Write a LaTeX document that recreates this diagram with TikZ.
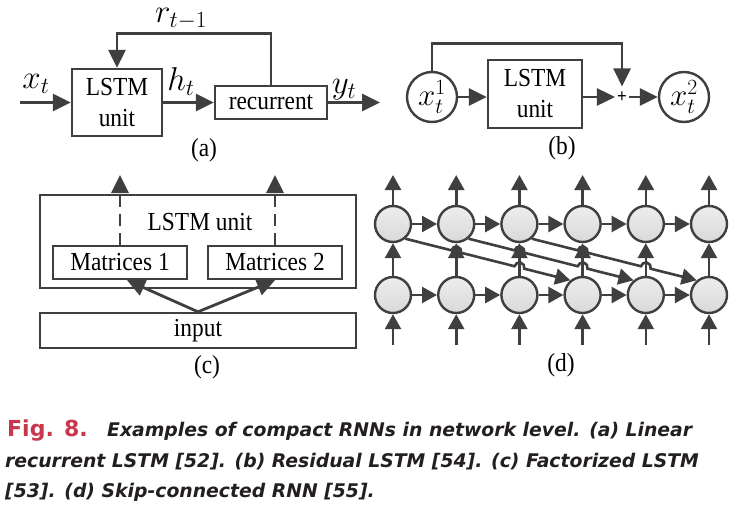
\RequirePackage{fix-cm}
\documentclass[tikz,border=0pt]{standalone}
\usepackage{fontspec}
\setmainfont{Liberation Serif}[FakeStretch=0.9]
\newfontfamily\capfont{DejaVu Sans}[BoldFont={DejaVu Sans Bold},BoldItalicFont={DejaVu Sans Bold Oblique}]
\usetikzlibrary{arrows.meta,calc}
\definecolor{dk}{HTML}{3F3F3F}
\definecolor{figred}{RGB}{200,55,75}
\definecolor{capblk}{HTML}{231F20}
\begin{document}
\begin{tikzpicture}[x=1pt,y=-1pt,
  lbl/.style={font=\fontsize{26}{31}\selectfont, inner sep=0pt},
  mlbl/.style={font=\fontsize{33}{36}\selectfont, inner sep=0pt},
  box/.style={draw=dk, line width=2.4pt, inner sep=0pt, font=\fontsize{26}{31}\selectfont, align=center},
  arr/.style={draw=dk, line width=2.8pt, -{Triangle[length=18pt,width=17pt]}},
  darr/.style={draw=dk, line width=2.6pt, -{Triangle[length=15pt,width=16pt]}},
  dn/.style={circle, draw=dk, line width=2.4pt, minimum size=36pt, inner sep=0pt, top color=black!7, bottom color=black!15},
  cir/.style={circle, draw=dk, line width=2.4pt, minimum size=50pt, inner sep=0pt, font=\fontsize{31}{34}\selectfont},
  captext/.style={anchor=base west, inner sep=0pt, text=capblk, font=\capfont\bfseries\itshape\fontsize{18.8}{22}\selectfont}
]
\fill[white] (0,0) rectangle (746,514);
\useasboundingbox (0,0) rectangle (746,514);

% ---------- (a)
\node[box, minimum width=90pt, minimum height=67pt] (a1) at (117,102.5) {LSTM\\unit};
\node[box, minimum width=112pt, minimum height=33pt] (a2) at (271,102.5) {recurrent};
\coordinate (ain) at (20,102.5);
\coordinate (aout) at (380,102.5);
\draw[arr] (ain) -- (a1.west);
\draw[arr] (a1.east) -- (a2.west);
\draw[arr] (a2.east) -- (aout);
\draw[arr] (a2.north) -- ++(0,-51) -| (a1.north);
\node[mlbl] (lx) at (36,84) {$x_t$};
\node[mlbl] (lh) at (181,82) {$h_t$};
\node[mlbl] (ly) at (344,90) {$y_t$};
\node[mlbl] (lr) at (181,19) {$r_{t-1}$};
\node[lbl] (capa) at (204,150) {(a)};

% ---------- (b)
\node[cir] (b0) at (432,97) {$x_t^1$};
\node[box, minimum width=94pt, minimum height=68pt] (b1) at (535,94) {LSTM\\unit};
\node[inner xsep=2pt, inner ysep=5pt, font=\fontsize{19}{19}\bfseries] (bp) at (622,97) {+};
\node[cir] (b2) at (684,97) {$x_t^2$};
\draw[arr] (b0.east) -- (b1.west |- b0.east);
\draw[arr] (b1.east |- bp.west) -- (bp.west);
\draw[arr] (bp.east) -- (b2.west);
\draw[arr] (b0.north) -- ++(0,-27) -| (bp.north);
\node[lbl] (capb) at (562,148) {(b)};

% ---------- (c)
\node[box, minimum width=316pt, minimum height=93pt] (c0) at (198,241.5) {};
\node[lbl] (ct) at (200,222) {LSTM unit};
\node[box, minimum width=134pt, minimum height=33pt] (m1) at (120,262.5) {Matrices 1};
\node[box, minimum width=134pt, minimum height=33pt] (m2) at (275,262.5) {Matrices 2};
\node[box, minimum width=316pt, minimum height=35pt] (cin) at (198,330.5) {input};
\coordinate (c1t) at (120,175);
\coordinate (c2t) at (275,175);
\draw[arr, dash pattern=on 12pt off 7pt] (m1.north) -- (c1t);
\draw[arr, dash pattern=on 12pt off 7pt] (m2.north) -- (c2t);
\draw[arr] (cin.north) -- ($(m1.south)+(7,0)$);
\draw[arr] (cin.north) -- (m2.south);
\node[lbl] (capc) at (207,367) {(c)};

% ---------- (d)
\foreach \i in {1,...,6}{
  \pgfmathsetmacro\xx{393+(\i-1)*63.2}
  \node[dn] (t\i) at (\xx,224) {};
  \node[dn] (b\i) at (\xx,295) {};
  \coordinate (o\i) at (\xx,175);
  \coordinate (n\i) at (\xx,345);
  \draw[darr] (t\i.north) -- (o\i);
  \draw[darr] (n\i) -- (b\i.south);
  \draw[darr] (b\i.north) -- (t\i.south);
}
\foreach \i [count=\j from 2] in {1,...,5}{
  \draw[darr] (t\i.east) -- (t\j.west);
  \draw[darr] (b\i.east) -- (b\j.west);
}
\foreach \i [evaluate=\i as \k using {int(\i+3)}] in {1,2,3}{
  \draw[darr] (t\i.-50) -- ($(t\i.-50)!0.2790!(b\k.130)$)
     arc[start angle=194.15, end angle=374.15, radius=5]
     -- ($(t\i.-50)!0.6622!(b\k.130)$)
     arc[start angle=194.15, end angle=374.15, radius=5]
     -- (b\k.130);
}
\node[lbl] (capd) at (561,365) {(d)};

% ---------- caption
\node[anchor=base west, inner sep=0pt, text=figred, font=\capfont\bfseries\fontsize{22}{22}\selectfont] (cap0) at (7,436) {Fig. 8.};
\node[captext] (cap1) at (107,436) {Examples of compact RNNs in network level. (a) Linear};
\node[captext] (cap2) at (5,467) {recurrent LSTM [52]. (b) Residual LSTM [54]. (c) Factorized LSTM};
\node[captext] (cap3) at (5,497) {[53]. (d) Skip-connected RNN [55].};
\end{tikzpicture}
\end{document}
